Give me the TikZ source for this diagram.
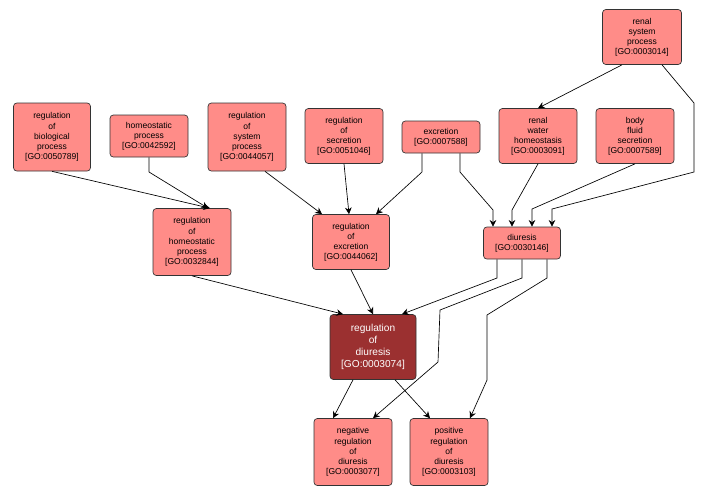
\documentclass[tikz,border=0pt]{standalone}
\usepackage{fontspec}
\setmainfont{Liberation Sans}
\usetikzlibrary{arrows.meta,positioning}
\tikzset{
  go/.style={draw=black!80, rounded corners=2.5pt, fill=red!45!white, fill=goFill,
    align=center, font=\fontsize{6.4}{7.6}\selectfont, inner sep=1pt, line width=0.5pt},
  hit/.style={go, fill=goDark, text=white, font=\fontsize{7.6}{9}\selectfont},
  rel/.style={-{Stealth[length=5pt,width=5pt]}, line width=0.5pt, black}
}
\definecolor{goFill}{HTML}{FF8C88}
\definecolor{goDark}{HTML}{9B3030}
\begin{document}
\begin{tikzpicture}[x=0.75pt,y=-0.75pt]
  \path[use as bounding box] (0,0) rectangle (709,497);

  % ---- top row ----
  \node[go, minimum width=79*0.75pt, minimum height=55*0.75pt] (rsp) at (642,37) {renal\\system\\process\\{[}GO:0003014{]}};
  \node[go, minimum width=77*0.75pt, minimum height=68*0.75pt] (rbp) at (52,137) {regulation\\of\\biological\\process\\{[}GO:0050789{]}};
  \node[go, minimum width=78*0.75pt, minimum height=42*0.75pt] (hp) at (149,136) {homeostatic\\process\\{[}GO:0042592{]}};
  \node[go, minimum width=78*0.75pt, minimum height=68*0.75pt] (rsyp) at (247,137) {regulation\\of\\system\\process\\{[}GO:0044057{]}};
  \node[go, minimum width=78*0.75pt, minimum height=55*0.75pt] (rsec) at (344,136) {regulation\\of\\secretion\\{[}GO:0051046{]}};
  \node[go, minimum width=78*0.75pt, minimum height=32*0.75pt] (exc) at (441,137) {excretion\\{[}GO:0007588{]}};
  \node[go, minimum width=78*0.75pt, minimum height=55*0.75pt] (rwh) at (538,136) {renal\\water\\homeostasis\\{[}GO:0003091{]}};
  \node[go, minimum width=78*0.75pt, minimum height=55*0.75pt] (bfs) at (635,136) {body\\fluid\\secretion\\{[}GO:0007589{]}};

  % ---- middle row ----
  \node[go, minimum width=78*0.75pt, minimum height=67*0.75pt] (rhp) at (192,242) {regulation\\of\\homeostatic\\process\\{[}GO:0032844{]}};
  \node[go, minimum width=77*0.75pt, minimum height=55*0.75pt] (rexc) at (351,242) {regulation\\of\\excretion\\{[}GO:0044062{]}};
  \node[go, minimum width=77*0.75pt, minimum height=32*0.75pt] (diu) at (522,243) {diuresis\\{[}GO:0030146{]}};

  % ---- query term and children ----
  \node[hit, minimum width=86*0.75pt, minimum height=65*0.75pt] (rd) at (373,347) {regulation\\of\\diuresis\\{[}GO:0003074{]}};
  \node[go, minimum width=78*0.75pt, minimum height=67*0.75pt] (neg) at (353,452) {negative\\regulation\\of\\diuresis\\{[}GO:0003077{]}};
  \node[go, minimum width=78*0.75pt, minimum height=67*0.75pt] (pos) at (449,452) {positive\\regulation\\of\\diuresis\\{[}GO:0003103{]}};

  % ---- edges ----
  \draw[rel] (rsp.south) ++(-20,0) -- (rwh.north);
  \draw[rel] (rsp.south) ++(20,0) -- (694,103) -- (694,172) -- (552,209) -- (diu.north -| 552,0);
  \draw[rel] (rbp.south) -- (rhp.north -| 210,0);
  \draw[rel] (hp.south) -- (149,172) -- (rhp.north -| 208,0);
  \draw[rel] (rsyp.south) ++(18,0) -- (rexc.north -| 322,0);
  \draw[rel] (rsec.south) -- (rexc.north -| 349,0);
  \draw[rel] (exc.south) ++(-19,0) -- (422,172) -- (rexc.north -| 376,0);
  \draw[rel] (exc.south) ++(19,0) -- (460,172) -- (493,210) -- (diu.north -| 493,0);
  \draw[rel] (rwh.south) -- (512,210) -- (diu.north -| 512,0);
  \draw[rel] (bfs.south) -- (532,209) -- (diu.north -| 532,0);
  \draw[rel] (rhp.south) -- (rd.north -| 343,0);
  \draw[rel] (rexc.south) -- (rd.north);
  \draw[rel] (diu.south) ++(-25,0) -- (497,278) -- (rd.north -| 402,0);
  \draw[rel] (diu.south) -- (522,278) -- (440,310) -- (438,362) -- (neg.north -| 373,0);
  \draw[rel] (diu.south) ++(25,0) -- (547,278) -- (487,315) -- (487,380) -- (pos.north -| 470,0);
  \draw[rel] (rd.south) ++(-20,0) -- (neg.north -| 333,0);
  \draw[rel] (rd.south) ++(22,0) -- (pos.north -| 430,0);
\end{tikzpicture}
\end{document}
